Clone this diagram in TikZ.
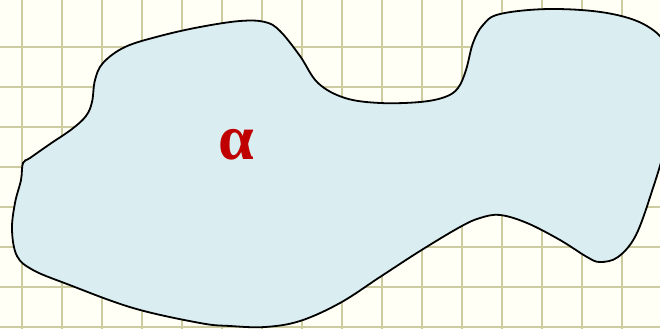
\documentclass[tikz,border=0pt]{standalone}
\usepackage{fontspec}
\newfontfamily\greekfont{Liberation Serif}
\definecolor{gridc}{RGB}{204,204,160}
\definecolor{bgc}{RGB}{255,255,246}
\definecolor{fillc}{RGB}{218,237,240}
\definecolor{alphac}{RGB}{192,0,0}
\tikzset{
  gridline/.style={draw=gridc, line width=2.2pt},
  region/.style={draw=black, line width=1.8pt, fill=fillc},
  label/.style={text=alphac, font=\greekfont\bfseries\fontsize{64}{64}\selectfont, inner sep=0pt}
}
\begin{document}
\begin{tikzpicture}[x=1pt,y=-1pt]
\useasboundingbox (0,0) rectangle (660,329);
\clip (0,0) rectangle (660,329);
\fill[bgc] (0,0) rectangle (660,329);
\foreach \i in {0,...,15} { \draw[gridline] (22+40*\i,0) -- (22+40*\i,329); }
\foreach \j in {0,...,7} { \draw[gridline] (0,46.7+40*\j) -- (660,46.7+40*\j); }
\draw[region] plot[smooth cycle, tension=0.6] coordinates {
 (23,163) (30,158) (50,144) (72,129) (86,116) (92,102) (95,80) (103,63) (125,47)
 (160,36) (200,27) (240,21) (265,22) (280,31) (300,56) (318,83) (345,98) (380,103)
 (420,102) (445,97) (458,88) (466,70) (473,43) (483,25) (500,14) (550,9) (607,13)
 (647,26) (668,50) (674,100) (665,147) (653,188) (636,235) (618,257) (600,262)
 (587,257) (560,240) (527,223) (500,215) (480,218) (460,227) (420,251) (380,277)
 (340,303) (300,321) (265,327) (230,326) (200,323) (133,308) (67,284) (33,270)
 (17,256) (12,230) (15,203) (21,180)
};
\node[label] (alpha) at (236,145) {α};
\end{tikzpicture}
\end{document}
